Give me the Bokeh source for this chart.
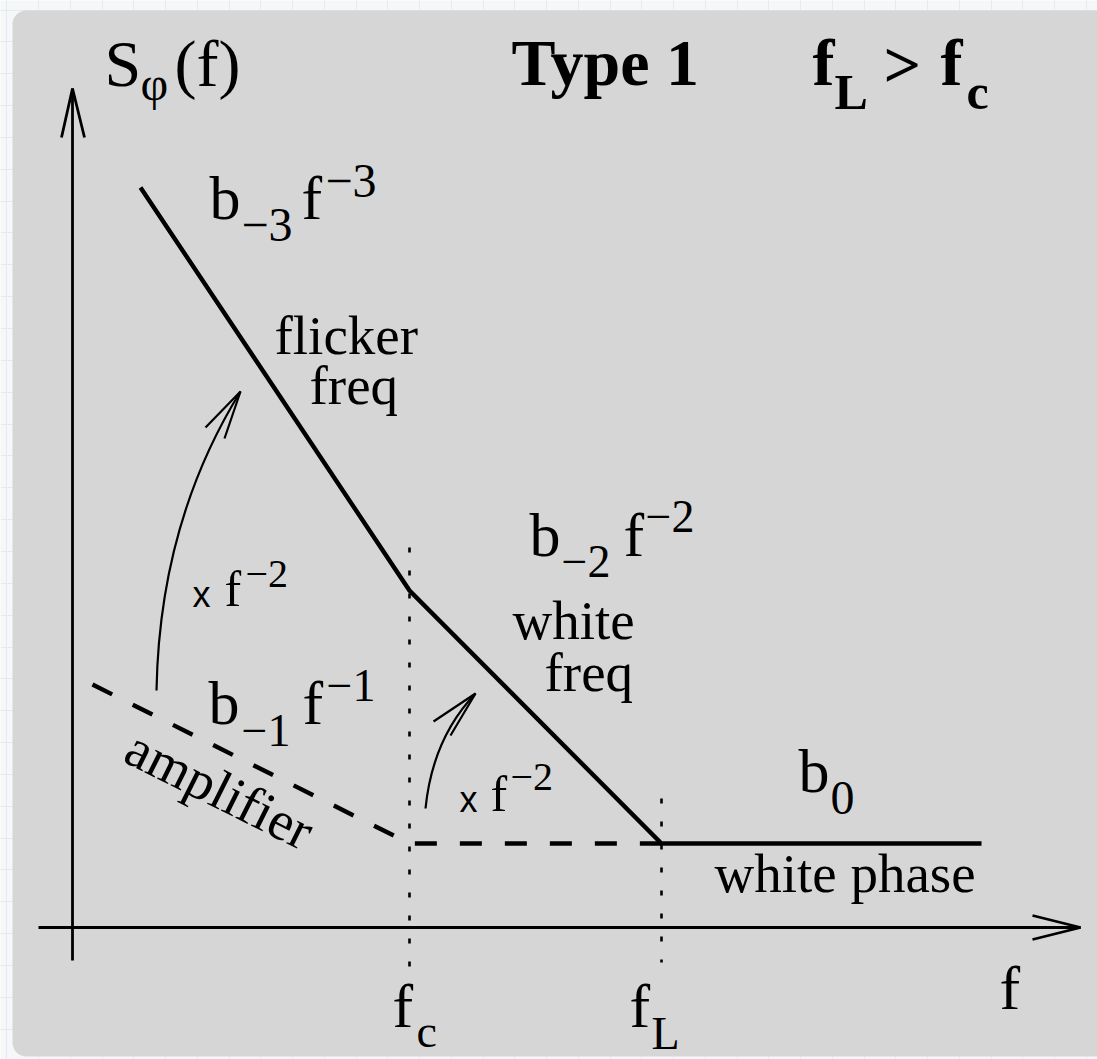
import numpy as np
from bokeh.plotting import figure
from bokeh.models import Range1d, BoxAnnotation, FixedTicker, Grid
from bokeh.core.properties import value
from bokeh.embed import file_html
from bokeh.resources import INLINE

# ---------------------------------------------------------------------------
# Phase-noise spectrum, type 1 (f_L > f_c), sketched on log-log axes.
# Horizontal: log10 f, vertical: log10 S_phi, both relative to the axis origin.
# ---------------------------------------------------------------------------
log_fc = 3.37          # corner where flicker-freq meets white-freq
log_fL = 5.89          # corner where white-freq meets white-phase

# total spectrum: b-3 f^-3  ->  b-2 f^-2  ->  b0
total_log_f = [0.68, 3.37, 5.89, 9.09]
total_log_s = [14.80, 6.74, 1.68, 1.68]

# amplifier alone: b-1 f^-1 (flicker phase) then b0 (white phase)
amp_log_f = [0.20, 3.37, 5.89]
amp_log_s = [4.86, 1.68, 1.68]

# ---------------------------------------------------------------------------
# Canvas layout
# ---------------------------------------------------------------------------
W, H = 1097, 1059
ORIGIN_PX = (72, 927)        # canvas pixel where the axes cross
PX_PER_DEC_F = 100.0         # pixels per decade of f
PX_PER_DEC_S = 50.0          # pixels per decade of S

def u(px):
    return (px - ORIGIN_PX[0]) / PX_PER_DEC_F

def v(py):
    return (ORIGIN_PX[1] - py) / PX_PER_DEC_S

OUTER = "#f5f7f8"
GRID = "#e2ebf0"
PANEL = "#d6d6d6"
INK = "black"
FONT = "Liberation Serif"
SANS = "Liberation Sans"
BASELINE_LIFT = 0.37         # text anchor sits this many em below the glyph baseline

p = figure(width=W, height=H,
           x_range=Range1d(u(0), u(W)), y_range=Range1d(v(H), v(0)),
           x_axis_type=None, y_axis_type=None,
           toolbar_location=None, output_backend="svg",
           min_border=0, outline_line_color=None,
           background_fill_color=OUTER, border_fill_color=OUTER)

# faint page grid behind the panel
p.add_layout(Grid(dimension=0, ticker=FixedTicker(ticks=[u(6.4 + 31.75 * k) for k in range(36)]),
                  grid_line_color=GRID, grid_line_width=1, level="image"))
p.add_layout(Grid(dimension=1, ticker=FixedTicker(ticks=[v(9.5 + 31.85 * k) for k in range(35)]),
                  grid_line_color=GRID, grid_line_width=1, level="image"))

# grey panel
p.add_layout(BoxAnnotation(left=u(12), right=u(W + 40), top=v(10), bottom=v(1056),
                           fill_color=PANEL, fill_alpha=1.0, line_color=None,
                           border_radius=14, level="underlay"))

# --- axes with open arrow heads ---
AX_W = 2.8
p.line([0, 0], [v(960), v(88)], line_color=INK, line_width=AX_W)
p.line([u(38), u(1080)], [0, 0], line_color=INK, line_width=AX_W)
p.line([u(61), 0, u(84)], [v(137), v(88), v(137)], line_color=INK, line_width=AX_W)
p.line([u(1032), u(1080), u(1032)], [v(915), 0, v(939)], line_color=INK, line_width=AX_W)

# --- corner frequency markers ---
p.line([log_fc, log_fc], [v(547), v(966)], line_color=INK, line_width=2.6, line_dash="5 18")
p.line([log_fL, log_fL], [v(798), v(962)], line_color=INK, line_width=2.6, line_dash="5 18")

# --- spectra ---
p.line(amp_log_f, amp_log_s, line_color=INK, line_width=4.4, line_dash="22 23")
p.line(total_log_f, total_log_s, line_color=INK, line_width=4.4, line_join="miter")

# --- "x f^-2" curved arrows ---
ARC_W = 2.2
p.quadratic(x0=u(156), y0=v(690), x1=u(240), y1=v(391), cx=u(159), cy=v(522),
            line_color=INK, line_width=ARC_W)
p.line([u(205), u(240), u(224)], [v(427), v(391), v(438)], line_color=INK, line_width=ARC_W)
p.quadratic(x0=u(425), y0=v(808), x1=u(475), y1=v(693), cx=u(432), cy=v(738),
            line_color=INK, line_width=ARC_W)
p.line([u(433), u(475), u(450)], [v(721), v(693), v(735)], line_color=INK, line_width=ARC_W)

# --- labels: (text, left px, baseline px, size px, weight, angle, font) ---
MINUS = "\u2212"
labels = [
    ("S", 104, 87, 66, "normal", 0, FONT),
    ("\u03c6", 140, 101, 48, "normal", 0, FONT),
    ("(f)", 174, 87, 66, "normal", 0, FONT),

    ("Type 1", 511, 86, 66, "bold", 0, FONT),
    ("f", 812, 86, 66, "bold", 0, FONT),
    ("L", 834, 110, 50, "bold", 0, FONT),
    (">", 883, 88, 66, "bold", 0, FONT),
    ("f", 940, 86, 66, "bold", 0, FONT),
    ("c", 966, 110, 50, "bold", 0, FONT),

    ("b", 209, 220, 62, "normal", 0, FONT),
    (MINUS + "3", 241, 242, 48, "normal", 0, FONT),
    ("f", 301, 220, 62, "normal", 0, FONT),
    (MINUS + "3", 325, 198, 48, "normal", 0, FONT),

    ("flicker", 274, 355, 55, "normal", 0, FONT),
    ("freq", 309, 405, 55, "normal", 0, FONT),

    ("x", 192, 607, 36, "normal", 0, SANS),
    ("f", 224, 607, 50, "normal", 0, FONT),
    (MINUS + "2", 245, 588, 40, "normal", 0, FONT),

    ("b", 529, 557, 62, "normal", 0, FONT),
    (MINUS + "2", 561, 578, 46, "normal", 0, FONT),
    ("f", 623, 557, 62, "normal", 0, FONT),
    (MINUS + "2", 645, 533, 46, "normal", 0, FONT),

    ("white", 512, 640, 55, "normal", 0, FONT),
    ("freq", 544, 692, 55, "normal", 0, FONT),

    ("b", 208, 725, 62, "normal", 0, FONT),
    (MINUS + "1", 241, 747, 46, "normal", 0, FONT),
    ("f", 302, 725, 62, "normal", 0, FONT),
    (MINUS + "1", 326, 702, 46, "normal", 0, FONT),

    ("amplifier", 120, 762, 55, "normal", -np.arctan(0.5), FONT),

    ("x", 459, 812, 36, "normal", 0, SANS),
    ("f", 490, 812, 50, "normal", 0, FONT),
    (MINUS + "2", 510, 791, 40, "normal", 0, FONT),

    ("b", 798, 793, 62, "normal", 0, FONT),
    ("0", 830, 815, 48, "normal", 0, FONT),
    ("white phase", 714, 893, 55, "normal", 0, FONT),

    ("f", 392, 1028, 62, "normal", 0, FONT),
    ("c", 416, 1048, 46, "normal", 0, FONT),
    ("f", 629, 1028, 62, "normal", 0, FONT),
    ("L", 651, 1050, 46, "normal", 0, FONT),
    ("f", 999, 1010, 62, "normal", 0, FONT),
]

for txt, px, py, size, weight, ang, font in labels:
    # move the anchor up along the text's own vertical so the glyph baseline lands on (px, py)
    lift = BASELINE_LIFT * size
    ax = px - lift * np.sin(ang)
    ay = py - lift * np.cos(ang)
    p.text(x=[u(ax)], y=[v(ay)], text=[txt], angle=ang,
           text_font=value(font), text_font_size=value(f"{size}px"),
           text_font_style=weight, text_color=INK,
           text_align="left", text_baseline="alphabetic")

open("out.html", "w").write(file_html(p, INLINE))
